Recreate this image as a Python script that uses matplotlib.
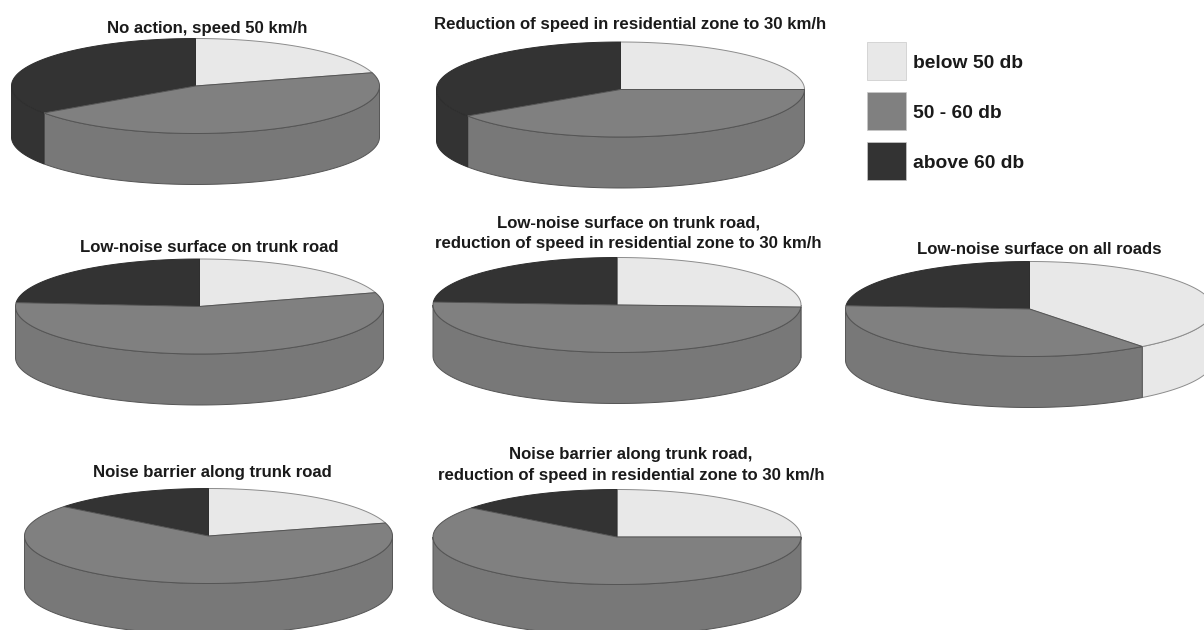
import numpy as np
import matplotlib
matplotlib.use('Agg')
import matplotlib.pyplot as plt
from matplotlib.patches import Polygon, Rectangle

plt.rcParams['font.family'] = ['Liberation Sans', 'DejaVu Sans']

titles = [
    'No action, speed 50 km/h',
    'Reduction of speed in residential zone to 30 km/h',
    'Low-noise surface on trunk road',
    'Low-noise surface on trunk road,\nreduction of speed in residential zone to 30 km/h',
    'Low-noise surface on all roads',
    'Noise barrier along trunk road',
    'Noise barrier along trunk road,\nreduction of speed in residential zone to 30 km/h',
]
# share of area in percent
below_50 = [20.5, 25.0, 20.3, 25.7, 39.5, 20.6, 25.0]
from_50_to_60 = [44.9, 40.6, 56.0, 50.3, 36.6, 65.0, 60.5]
above_60 = [34.6, 34.4, 23.7, 24.0, 23.9, 14.4, 14.5]

legend_labels = ['below 50 db', '50 - 60 db', 'above 60 db']

# pixel layout
centers = [(195.5, 86), (620.5, 89.5), (199.5, 306.5), (617, 305), (1029.5, 309), (208.5, 536), (617, 537)]
title_pos = [(207.5, 28), (630, 25), (209.5, 248), (628.5, 233), (1039.5, 250), (212, 473), (631, 465)]
legend_box_y = [61, 110.5, 160.5]
legend_text_y = [64, 113, 163]
RX, RY, DEPTH = 184, 47.5, 51

top_colors = ['#e8e8e8', '#808080', '#333333']
side_colors = ['#e8e8e8', '#787878', '#333333']
edge_colors = ['#8c8c8c', '#555555', '#2e2e2e']


def xy(cx, cy, ang):
    # ang is clockwise from 12 o'clock in degrees
    a = np.radians(ang)
    return cx + RX * np.sin(a), cy - RY * np.cos(a)


def draw_pie(ax, cx, cy, shares):
    stops = np.cumsum([0] + list(shares)) * 3.6
    # side wall first, only the front half can be seen
    for i in range(3):
        a0 = max(stops[i], 90)
        a1 = min(stops[i + 1], 270)
        if a1 <= a0:
            continue
        ang = np.linspace(a0, a1, 120)
        x, y = xy(cx, cy, ang)
        pts = np.vstack([np.c_[x, y], np.c_[x[::-1], y[::-1] + DEPTH]])
        ax.add_patch(Polygon(pts, closed=True, fc=side_colors[i], ec=edge_colors[i], lw=0.7))
    for i in [0, 2, 1]:
        ang = np.linspace(stops[i], stops[i + 1], 200)
        x, y = xy(cx, cy, ang)
        pts = np.vstack([[cx, cy], np.c_[x, y]])
        ax.add_patch(Polygon(pts, closed=True, fc=top_colors[i], ec=edge_colors[i], lw=0.7))


fig = plt.figure(figsize=(12.04, 6.30), dpi=100)
ax = fig.add_axes([0, 0, 1, 1])
ax.set_xlim(0, 1204)
ax.set_ylim(630, 0)
ax.axis('off')

for i in range(len(titles)):
    cx, cy = centers[i]
    draw_pie(ax, cx, cy, [below_50[i], from_50_to_60[i], above_60[i]])
    ax.text(title_pos[i][0], title_pos[i][1], titles[i], ha='center', va='center',
            fontsize=12.1, fontweight='bold', color='#1a1a1a', linespacing=1.42)

for i in range(3):
    ax.add_patch(Rectangle((867, legend_box_y[i] - 19), 39, 38, fc=top_colors[i], ec='#c8c8c8', lw=0.5))
    ax.text(913, legend_text_y[i], legend_labels[i], ha='left', va='center',
            fontsize=13.9, fontweight='bold', color='#1a1a1a')

fig.savefig('out.png', dpi=100)
